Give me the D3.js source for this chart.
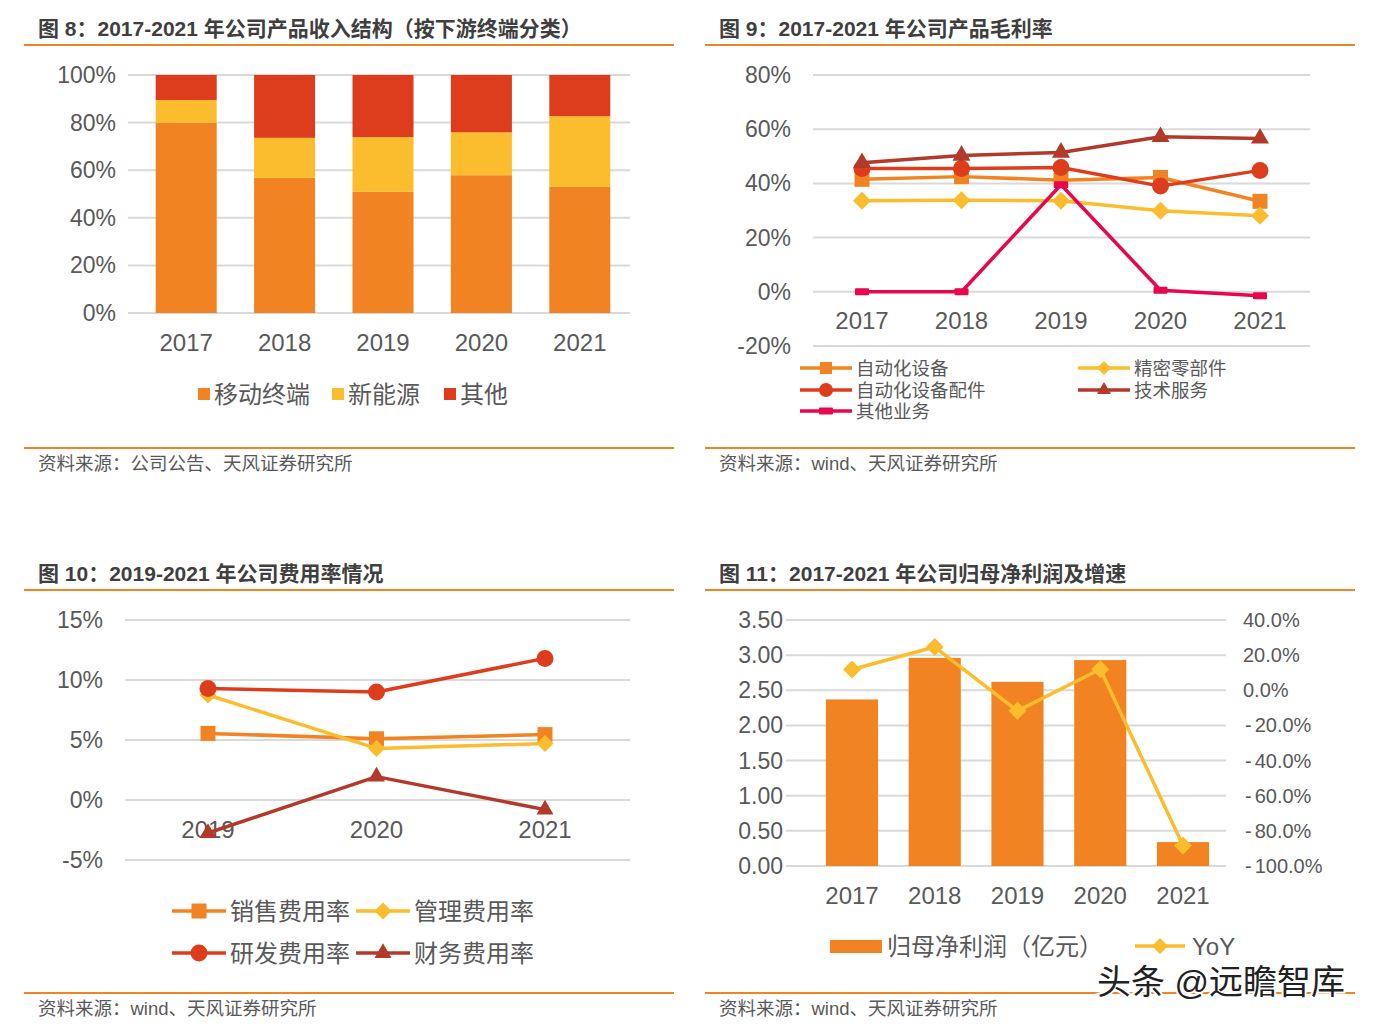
<!DOCTYPE html>
<html><head><meta charset="utf-8">
<script src="https://cdn.jsdelivr.net/npm/d3@7"></script>
<style>
body{margin:0;background:#fff;}
svg{display:block;font-family:"Liberation Sans","Noto Sans CJK SC",sans-serif;}
</style></head><body>
<svg id="c" width="1377" height="1029"></svg>
<script>
// ---------- DATA ----------
const years = ["2017","2018","2019","2020","2021"];
// Chart 8: revenue structure by downstream (%)
const revMobile = [80.0, 56.8, 50.9, 57.9, 53.0];
const revEnergy = [9.5, 16.8, 23.0, 18.0, 29.7];
const revOther  = [10.5, 26.4, 26.1, 24.1, 17.3];
const revNames  = ["移动终端","新能源","其他"];
const revTicks  = [0,20,40,60,80,100];
// Chart 9: gross margin (%)
const gmAuto      = [41.5, 42.5, 41.2, 42.2, 33.4];
const gmPrecision = [33.6, 33.8, 33.6, 29.9, 28.1];
const gmAutoPart  = [45.5, 45.5, 45.9, 39.0, 44.8];
const gmTech      = [47.6, 50.3, 51.4, 57.2, 56.6];
const gmOther     = [0.0, 0.0, 39.5, 0.6, -1.5];
const gmNames     = ["自动化设备","精密零部件","自动化设备配件","技术服务","其他业务"];
const gmTicks     = [-20,0,20,40,60,80];
// Chart 10: expense ratios (%)
const expYears   = ["2019","2020","2021"];
const salesRate  = [5.55, 5.1, 5.45];
const adminRate  = [8.75, 4.3, 4.7];
const rdRate     = [9.3, 9.0, 11.8];
const finRate    = [-2.75, 1.95, -0.8];
const expNames   = ["销售费用率","管理费用率","研发费用率","财务费用率"];
const expTicks   = [-5,0,5,10,15];
// Chart 11: net profit (亿元) and YoY (%)
const profit     = [2.37, 2.96, 2.62, 2.93, 0.34];
const profitYoY  = [11.8, 24.6, -11.7, 12.0, -88.3];
const profitTicks = [0,0.5,1,1.5,2,2.5,3,3.5];
const yoyTicks    = [-100,-80,-60,-40,-20,0,20,40];
const profitNames = ["归母净利润（亿元）","YoY"];

// ---------- STYLE ----------
const C = {orange:"#F28322", yellow:"#FBBC2D", red:"#DE3D1D", dark:"#B3392A", pink:"#E8064F",
           grid:"#D9D9D9", tick:"#595959", title:"#3F3F3F", src:"#595959", rule:"#F28322"};
const svg = d3.select("#c");

function frame(x0, x1, titleY, lineY, footY, title, source){
  svg.append("text").attr("x", x0+14).attr("y", titleY).attr("dominant-baseline","central")
    .attr("font-size",21).attr("font-weight","bold").attr("fill",C.title).text(title);
  svg.append("line").attr("x1",x0).attr("x2",x1).attr("y1",lineY).attr("y2",lineY)
    .attr("stroke",C.rule).attr("stroke-width",2);
  svg.append("line").attr("x1",x0).attr("x2",x1).attr("y1",footY).attr("y2",footY)
    .attr("stroke",C.rule).attr("stroke-width",2);
  svg.append("text").attr("x", x0+14).attr("y", footY+15).attr("dominant-baseline","central")
    .attr("font-size",18.5).attr("fill",C.src).text(source);
}
function grid(g, y, ticks, xa, xb){
  g.selectAll(null).data(ticks).join("line")
    .attr("x1",xa).attr("x2",xb).attr("y1",d=>y(d)).attr("y2",d=>y(d))
    .attr("stroke",C.grid).attr("stroke-width",2);
}
function yLabels(g, y, ticks, x, fmt, size, anchor){
  g.selectAll(null).data(ticks).join("text")
    .attr("x",x).attr("y",d=>y(d)).attr("dominant-baseline","central")
    .attr("text-anchor",anchor||"end").attr("font-size",size||23).attr("fill",C.tick).text(fmt);
}
function xLabels(g, x, cats, y, off){
  g.selectAll(null).data(cats).join("text")
    .attr("x",d=>x(d)+(off||0)).attr("y",y).attr("dominant-baseline","central")
    .attr("text-anchor","middle").attr("font-size",24).attr("fill",C.tick).text(d=>d);
}
function marker(g, type, cx, cy, s, color){
  if(type==="square"){
    g.append("rect").attr("x",cx-s/2).attr("y",cy-s/2).attr("width",s).attr("height",s).attr("fill",color);
  } else if(type==="circle"){
    g.append("circle").attr("cx",cx).attr("cy",cy).attr("r",s/2).attr("fill",color);
  } else if(type==="triangle"){
    g.append("path").attr("d", d3.symbol(d3.symbolTriangle, Math.sqrt(3)/4*s*s)())
      .attr("transform",`translate(${cx},${cy})`).attr("fill",color);
  } else if(type==="diamond"){
    const h=s/2;
    g.append("path").attr("d",`M${cx},${cy-h}L${cx+h},${cy}L${cx},${cy+h}L${cx-h},${cy}Z`).attr("fill",color);
  } else if(type==="dash"){
    g.append("rect").attr("x",cx-s/2).attr("y",cy-3.5).attr("width",s).attr("height",7).attr("rx",1).attr("fill",color);
  }
}
function series(g, x, y, cats, vals, color, type, s, w){
  g.append("path").datum(vals)
    .attr("d", d3.line().x((d,i)=>x(cats[i])).y(d=>y(d)))
    .attr("fill","none").attr("stroke",color).attr("stroke-width",w||3.5).attr("stroke-linejoin","round");
  vals.forEach((v,i)=>marker(g,type,x(cats[i]),y(v),s,color));
}
function legendLine(g, xa, xb, yc, color, type, s, label, tx, fs){
  g.append("line").attr("x1",xa).attr("x2",xb).attr("y1",yc).attr("y2",yc)
    .attr("stroke",color).attr("stroke-width",3.5);
  marker(g,type,(xa+xb)/2,yc,s,color);
  g.append("text").attr("x",tx).attr("y",yc).attr("dominant-baseline","central")
    .attr("font-size",fs).attr("fill",C.tick).text(label);
}

// ---------- FRAMES ----------
frame(24,674,28,45,448,"图 8：2017-2021 年公司产品收入结构（按下游终端分类）","资料来源：公司公告、天风证券研究所");
frame(705,1355,28,45,448,"图 9：2017-2021 年公司产品毛利率","资料来源：wind、天风证券研究所");
frame(24,674,573,590,993,"图 10：2019-2021 年公司费用率情况","资料来源：wind、天风证券研究所");
frame(705,1355,573,590,993,"图 11：2017-2021 年公司归母净利润及增速","资料来源：wind、天风证券研究所");

// ---------- CHART 8 ----------
{
  const g = svg.append("g");
  const y = d3.scaleLinear().domain([0,100]).range([313,75]);
  const x = d3.scaleBand().domain(years).range([137,629]).paddingInner(0.38).paddingOuter(0.19);
  grid(g, y, revTicks, 128, 630);
  yLabels(g, y, revTicks, 116, d=>d+"%", 23);
  const layers = [revMobile, revEnergy, revOther];
  const cols = [C.orange, C.yellow, C.red];
  layers.forEach((arr,k)=>{
    g.selectAll(null).data(arr).join("rect")
      .attr("x",(d,i)=>x(years[i])).attr("width",x.bandwidth())
      .attr("y",(d,i)=>{let b=0; for(let j=0;j<k;j++) b+=layers[j][i]; return y(b+d);})
      .attr("height",(d,i)=>{let b=0; for(let j=0;j<k;j++) b+=layers[j][i]; return y(b)-y(b+d);})
      .attr("fill",cols[k]);
  });
  xLabels(g, x, years, 342, x.bandwidth()/2);
  const lx = [198, 332, 444];
  revNames.forEach((n,i)=>{
    g.append("rect").attr("x",lx[i]).attr("y",388).attr("width",12).attr("height",12).attr("fill",cols[i]);
    g.append("text").attr("x",lx[i]+16).attr("y",394).attr("dominant-baseline","central")
      .attr("font-size",24).attr("fill",C.tick).text(n);
  });
}

// ---------- CHART 9 ----------
{
  const g = svg.append("g");
  const y = d3.scaleLinear().domain([-20,80]).range([346,75]);
  const x = d3.scalePoint().domain(years).range([862,1260]);
  grid(g, y, gmTicks, 813, 1310);
  yLabels(g, y, gmTicks, 791, d=>d+"%", 23);
  xLabels(g, x, years, 320);
  const defs = [
    [gmAuto, C.orange, "square", 15],
    [gmPrecision, C.yellow, "diamond", 18],
    [gmAutoPart, C.red, "circle", 17],
    [gmTech, C.dark, "triangle", 18],
    [gmOther, C.pink, "dash", 14]
  ];
  defs.forEach(d=>series(g, x, y, years, d[0], d[1], d[2], d[3], 3.5));
  const pos = [[800,852,856,368],[1078,1130,1134,368],[800,852,856,390],[1078,1130,1134,390],[800,852,856,411]];
  defs.forEach((d,i)=>{
    const p=pos[i];
    legendLine(g,p[0],p[1],p[3],d[1],d[2],d[2]==="dash"?14:(d[2]==="square"?12:14),gmNames[i],p[2],18.5);
  });
}

// ---------- CHART 10 ----------
{
  const g = svg.append("g");
  const y = d3.scaleLinear().domain([-5,15]).range([860,620]);
  const x = d3.scalePoint().domain(expYears).range([208,545]);
  grid(g, y, expTicks, 125, 630);
  yLabels(g, y, expTicks, 103, d=>d+"%", 23);
  xLabels(g, x, expYears, 829);
  const defs = [
    [salesRate, C.orange, "square", 15],
    [adminRate, C.yellow, "diamond", 17],
    [rdRate, C.red, "circle", 17],
    [finRate, C.dark, "triangle", 17]
  ];
  defs.forEach(d=>series(g, x, y, expYears, d[0], d[1], d[2], d[3], 3.5));
  const pos = [[172,226,230,911],[356,410,414,911],[172,226,230,953],[356,410,414,953]];
  defs.forEach((d,i)=>{
    const p=pos[i];
    legendLine(g,p[0],p[1],p[3],d[1],d[2],d[3],expNames[i],p[2],24);
  });
}

// ---------- CHART 11 ----------
{
  const g = svg.append("g");
  const yL = d3.scaleLinear().domain([0,3.5]).range([866,620]);
  const yR = d3.scaleLinear().domain([-100,40]).range([866,620]);
  const x = d3.scaleBand().domain(years).range([810.6,1224.4]).paddingInner(0.37).paddingOuter(0.185);
  grid(g, yL, profitTicks, 786, 1226);
  yLabels(g, yL, profitTicks, 783, d=>d.toFixed(2), 23);
  // right axis labels
  const yTicksR = g.selectAll(null).data(yoyTicks).join("text")
    .attr("x",d=>d<0?1245:1243).attr("y",d=>yR(d)).attr("dominant-baseline","central")
    .attr("font-size",20).attr("fill",C.tick);
  yTicksR.each(function(d){
    const t=d3.select(this);
    if(d<0){ t.append("tspan").text("-"); t.append("tspan").attr("dx",3).text(Math.abs(d).toFixed(1)+"%"); }
    else t.text(d.toFixed(1)+"%");
  });
  g.selectAll(null).data(profit).join("rect")
    .attr("x",(d,i)=>x(years[i])).attr("width",x.bandwidth())
    .attr("y",d=>yL(d)).attr("height",d=>yL(0)-yL(d)).attr("fill",C.orange);
  const xc = d=>x(d)+x.bandwidth()/2;
  g.append("path").datum(profitYoY)
    .attr("d", d3.line().x((d,i)=>xc(years[i])).y(d=>yR(d)))
    .attr("fill","none").attr("stroke",C.yellow).attr("stroke-width",3.5).attr("stroke-linejoin","round");
  profitYoY.forEach((v,i)=>marker(g,"diamond",xc(years[i]),yR(v),18,C.yellow));
  xLabels(g, x, years, 895, x.bandwidth()/2);
  g.append("rect").attr("x",830).attr("y",940).attr("width",52).attr("height",13).attr("fill",C.orange);
  g.append("text").attr("x",887).attr("y",946).attr("dominant-baseline","central")
    .attr("font-size",24).attr("fill",C.tick).text(profitNames[0]);
  legendLine(g,1135,1185,946,C.yellow,"diamond",16,profitNames[1],1192,24);
}

// watermark
svg.append("text").attr("x",1097).attr("y",982).attr("dominant-baseline","central")
  .attr("font-size",34).attr("fill","#222").attr("stroke","#fff").attr("stroke-width",4)
  .attr("paint-order","stroke").text("头条 @远瞻智库");
</script></body></html>
